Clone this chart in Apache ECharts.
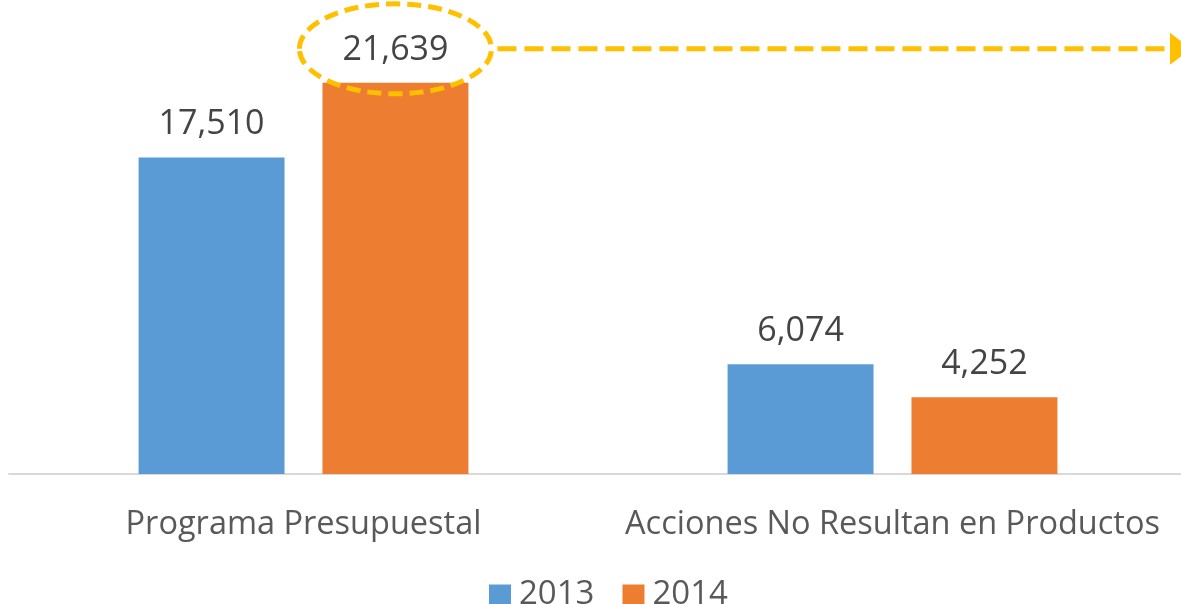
<!DOCTYPE html>
<html>
<head>
<meta charset="utf-8">
<script src="https://cdn.jsdelivr.net/npm/echarts@6/dist/echarts.min.js"></script>
<style>
  html, body { margin: 0; padding: 0; background: #fff; }
  #chart { width: 1181px; height: 604px; }
</style>
</head>
<body>
<div id="chart"></div>
<script>
const categories = ['Programa Presupuestal', 'Acciones No Resultan en Productos'];
const seriesNames = ['2013', '2014'];
const values2013 = [17510, 6074];
const values2014 = [21639, 4252];

const FONT = '"Open Sans", "Noto Sans", sans-serif';
const TEXT = '#595959';
const GOLD = '#FFC000';

const chart = echarts.init(document.getElementById('chart'), null, { renderer: 'canvas' });

function barSeries(name, data, color) {
  return {
    name: name,
    type: 'bar',
    data: data,
    barGap: '26%',
    barCategoryGap: '44%',
    itemStyle: { color: color },
    label: {
      show: true,
      position: 'top',
      distance: 16,
      color: '#444',
      fontFamily: FONT,
      fontSize: 34,
      formatter: p => p.value.toLocaleString('en-US')
    }
  };
}

chart.setOption({
  animation: false,
  textStyle: { fontFamily: FONT },
  grid: { left: 9, width: 1178, top: 4, bottom: 130, outerBoundsMode: 'none' },
  legend: {
    data: seriesNames,
    left: 484,
    top: 573,
    icon: 'rect',
    itemWidth: 22,
    itemHeight: 20,
    itemGap: 28,
    textStyle: { color: TEXT, fontSize: 33, fontFamily: FONT, padding: [0, 0, 0, 3] }
  },
  xAxis: {
    type: 'category',
    data: categories,
    axisLine: { lineStyle: { color: '#D9D9D9', width: 2 } },
    axisTick: { show: false },
    axisLabel: { interval: 0, color: TEXT, fontSize: 32.5, fontFamily: FONT, margin: 34 }
  },
  yAxis: {
    type: 'value',
    min: 0,
    max: 26000,
    show: false,
    splitLine: { show: false }
  },
  series: [
    barSeries(seriesNames[0], values2013, '#5B9BD5'),
    barSeries(seriesNames[1], values2014, '#ED7D31')
  ]
});

// highlight the 2014 value with a dashed ellipse and a dashed arrow to the right
const layout = chart.getModel().getSeriesByIndex(1).getData().getItemLayout(0);
const barTop = Math.min(layout.y, layout.y + layout.height);
const cx = layout.x + layout.width / 2;
const cy = barTop - 34;
const rx = 96, ry = 45;
const W = chart.getWidth();

chart.setOption({
  graphic: [
    {
      type: 'ellipse',
      shape: { cx: cx, cy: cy, rx: rx, ry: ry },
      style: { fill: null, stroke: GOLD, lineWidth: 5, lineDash: [14, 7] },
      z: 100
    },
    {
      type: 'line',
      shape: { x1: cx + rx + 6, y1: cy, x2: W - 11, y2: cy },
      style: { stroke: GOLD, lineWidth: 5, lineDash: [19, 8] },
      z: 100
    },
    {
      type: 'polygon',
      shape: { points: [[W - 11, cy - 16], [W + 10, cy], [W - 11, cy + 16]] },
      style: { fill: GOLD },
      z: 100
    }
  ]
});
</script>
</body>
</html>
